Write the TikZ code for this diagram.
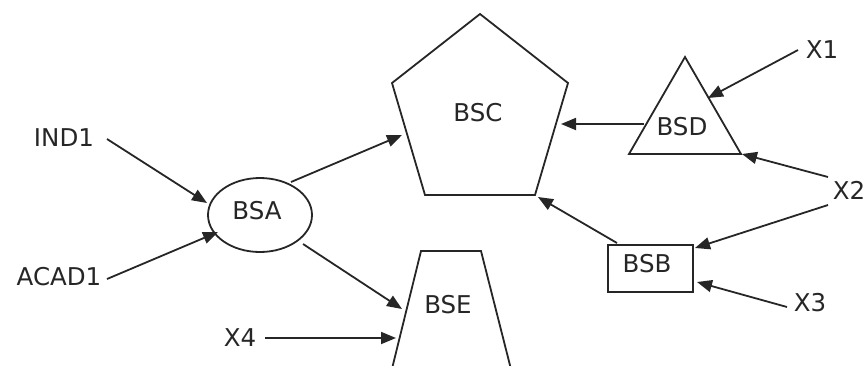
\documentclass[tikz,border=0pt]{standalone}
\usepackage{fontspec}
\setmainfont{DejaVu Sans}
\usetikzlibrary{arrows.meta,shapes.geometric}
\begin{document}
\begin{tikzpicture}[x=1pt,y=-1pt,
  outline/.style={draw=black!85, line width=1.8pt, line join=miter},
  conn/.style={draw=black!85, line width=1.8pt, -{Triangle[length=15pt,width=12pt]}},
  lbl/.style={inner sep=0pt, font=\fontsize{24.5}{29}\selectfont, text=black!85}]
\useasboundingbox (0,0) rectangle (868,365);
\clip (0,0) rectangle (868,365);

% ---- shapes ----
% BSA: ellipse
\node[ellipse, outline, minimum width=104pt, minimum height=74pt, inner sep=0pt] (bsa) at (260,215) {};
% BSC: pentagon
\coordinate (c1) at (480,14);
\coordinate (c2) at (568,83);
\coordinate (c3) at (535,195);
\coordinate (c4) at (425,195);
\coordinate (c5) at (392,83);
\draw[outline] (c1) -- (c2) -- (c3) -- (c4) -- (c5) -- cycle;
% BSD: triangle
\coordinate (d1) at (685,57);
\coordinate (d2) at (741,154);
\coordinate (d3) at (629,154);
\draw[outline] (d1) -- (d2) -- (d3) -- cycle;
% BSB: box
\coordinate (b1) at (608,245);
\coordinate (b2) at (693,292);
\draw[outline] (b1) rectangle (b2);
% BSE: trapezoid running off the lower edge
\coordinate (e1) at (388,385);
\coordinate (e2) at (421,251);
\coordinate (e3) at (481,251);
\coordinate (e4) at (515,385);
\draw[outline] (e1) -- (e2) -- (e3) -- (e4);

% ---- labels ----
\node[lbl] (tbsa) at (257,211) {BSA};
\node[lbl] (tbsc) at (478,113) {BSC};
\node[lbl] (tbsd) at (682,127) {BSD};
\node[lbl] (tbsb) at (647,264) {BSB};
\node[lbl] (tbse) at (448,305) {BSE};
\node[lbl] (ind1) at (64,138) {IND1};
\node[lbl] (acad1) at (59,277) {ACAD1};
\node[lbl] (x1) at (822,50) {X1};
\node[lbl] (x2) at (849,190) {X2};
\node[lbl] (x3) at (810,303) {X3};
\node[lbl] (x4) at (240,338) {X4};

% ---- connector end points ----
\coordinate (ind1-out) at (107,139);
\coordinate (bsa-in1) at (207,203);
\coordinate (acad1-out) at (107,279);
\coordinate (bsa-in2) at (218,232);
\coordinate (bsa-out1) at (291,182);
\coordinate (bsc-in1) at (402,135);
\coordinate (bsa-out2) at (303,244);
\coordinate (bse-in1) at (402,309);
\coordinate (x4-out) at (265,338);
\coordinate (bse-in2) at (396,338);
\coordinate (bsd-out) at (644,124);
\coordinate (bsc-in2) at (561,124);
\coordinate (x1-out) at (798,50);
\coordinate (bsd-in1) at (708,98);
\coordinate (x2-out1) at (828,177);
\coordinate (bsd-in2) at (742,154);
\coordinate (x2-out2) at (828,205);
\coordinate (bsb-in1) at (695,248);
\coordinate (x3-out) at (787,307);
\coordinate (bsb-in2) at (697,282);
\coordinate (bsb-out) at (617,243);
\coordinate (bsc-in3) at (538,197);

% ---- connectors ----
\draw[conn] (ind1-out) -- (bsa-in1);
\draw[conn] (acad1-out) -- (bsa-in2);
\draw[conn] (bsa-out1) -- (bsc-in1);
\draw[conn] (bsa-out2) -- (bse-in1);
\draw[conn] (x4-out) -- (bse-in2);
\draw[conn] (bsd-out) -- (bsc-in2);
\draw[conn] (x1-out) -- (bsd-in1);
\draw[conn] (x2-out1) -- (bsd-in2);
\draw[conn] (x2-out2) -- (bsb-in1);
\draw[conn] (x3-out) -- (bsb-in2);
\draw[conn] (bsb-out) -- (bsc-in3);
\end{tikzpicture}
\end{document}
